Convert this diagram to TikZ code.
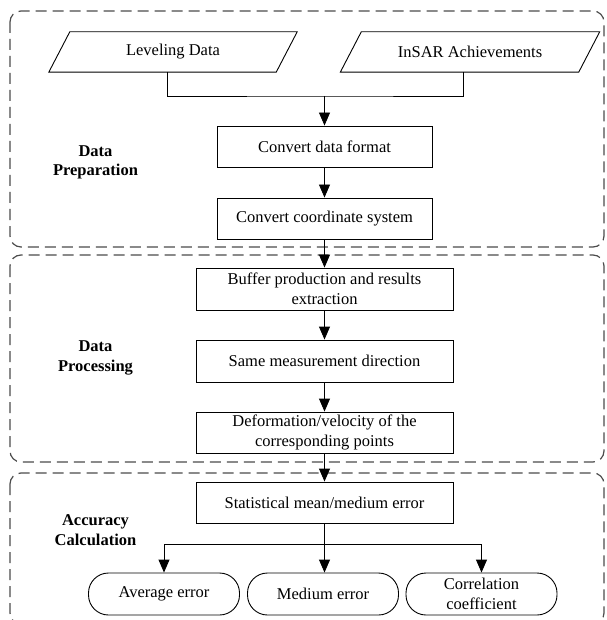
\documentclass[tikz,border=0pt]{standalone}
\usepackage{fontspec}
\setmainfont{Liberation Serif}
\usetikzlibrary{arrows.meta,calc}
\begin{document}
\begin{tikzpicture}[x=1pt,y=-1pt,
  every node/.style={font=\fontsize{16.5}{19.5}\selectfont, align=center, inner sep=0pt},
  stepbox/.style={draw, line width=0.9pt, minimum height=41pt},
  parabox/.style={draw=none, minimum height=40pt},
  endbox/.style={draw, line width=0.9pt, rounded corners=20pt, minimum width=151pt, minimum height=42pt},
  grouplabel/.style={font=\fontsize{16.5}{19.5}\selectfont\bfseries},
  frame/.style={draw=black!70, line width=1.2pt, dash pattern=on 11pt off 6pt, rounded corners=11pt},
  conn/.style={line width=0.9pt},
  arr/.style={line width=0.9pt, -{Triangle[length=13pt,width=11pt]}}
]
\useasboundingbox (0,0) rectangle (606,620);

% group frames
\draw[frame] (10,11) rectangle (604,247);
\draw[frame] (10,255) rectangle (604,462);
\draw[frame] (10,473) rectangle (604,624);

% group labels
\node[grouplabel] (lab1) at (95.5,162.5) {Data\\Preparation};
\node[grouplabel] (lab2) at (95.5,358) {Data\\Processing};
\node[grouplabel] (lab3) at (95.5,530) {Accuracy\\Calculation};

% inputs (parallelograms)
\node[parabox, minimum width=227pt] (lev) at (173,52) {Leveling Data};
\node[parabox, minimum width=238pt] (ins) at (470,52) {InSAR Achievements};
\foreach \n in {lev,ins}{
  \draw[line width=0.9pt] ($(\n.south west)+(-10.5,0)$) -- ($(\n.south east)+(-10.5,0)$)
     -- ($(\n.north east)+(10.5,0)$) -- ($(\n.north west)+(10.5,0)$) -- cycle;
}

% process boxes
\node[stepbox, minimum width=215pt] (fmt) at (324.5,146.5) {Convert data format};
\node[stepbox, minimum width=215pt] (crd) at (324.5,218.5) {Convert coordinate system};
\node[stepbox, minimum width=257pt, minimum height=42pt] (buf) at (324.5,289) {Buffer production and results\\extraction};
\node[stepbox, minimum width=257pt, minimum height=42pt] (same) at (324.5,361) {Same measurement direction};
\node[stepbox, minimum width=257pt] (def) at (324.5,432.5) {Deformation/velocity of the\\corresponding points};
\node[stepbox, minimum width=257pt] (stat) at (324.5,502.5) {Statistical mean/medium error};

% results
\node[endbox] (avg) at (164,594) {Average error};
\node[endbox] (med) at (323,594) {Medium error};
\node[endbox] (corr) at (481.5,594) {Correlation\\coefficient};

% connectors
\coordinate (levb) at (167,72);
\coordinate (insb) at (463,72);
\coordinate (join) at (324.5,96);
\draw[conn] (levb) |- (join) -| (insb);
\draw[arr] (join) -- (fmt.north);
\draw[arr] (fmt) -- (crd);
\draw[arr] (crd) -- (buf);
\draw[arr] (buf) -- (same);
\draw[arr] (same) -- (def);
\draw[arr] (def) -- (stat);
\coordinate (split) at (324.5,544);
\draw[conn] (stat.south) -- (split);
\draw[arr] (split) -| (avg.north);
\draw[arr] (split) -| (corr.north);
\draw[arr] (split) -- (split |- med.north);
\end{tikzpicture}
\end{document}
